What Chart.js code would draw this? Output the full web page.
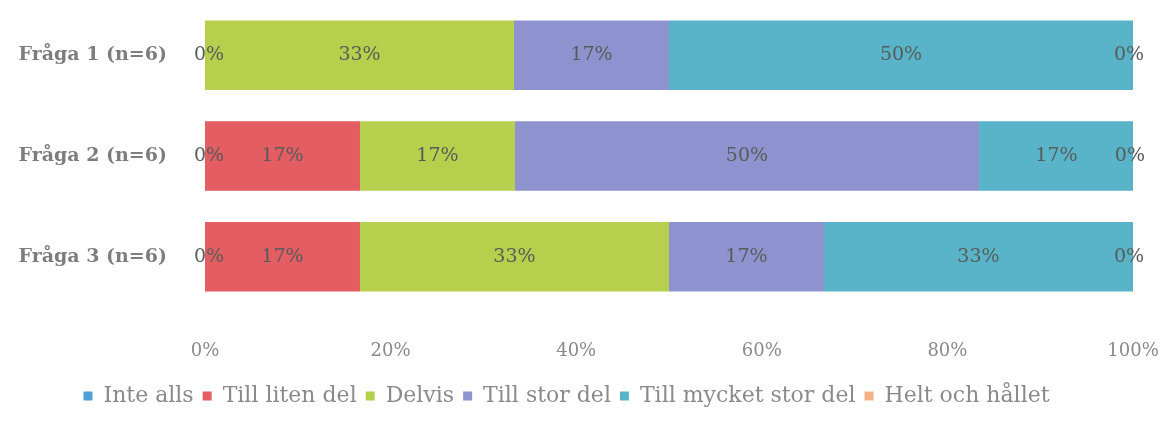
<!DOCTYPE html>
<html>
<head>
<meta charset="utf-8">
<script src="https://cdn.jsdelivr.net/npm/chart.js@4/dist/chart.umd.min.js"></script>
<style>
  html, body { margin: 0; padding: 0; background: #fff; }
  #wrap { width: 1168px; height: 434px; position: relative; }
</style>
</head>
<body>
<div id="wrap"><canvas id="chart"></canvas></div>
<script>
// ── Données ──
var categories = ['Fråga 1 (n=6)', 'Fråga 2 (n=6)', 'Fråga 3 (n=6)'];
var seriesNames = ['Inte alls', 'Till liten del', 'Delvis', 'Till stor del', 'Till mycket stor del', 'Helt och hållet'];
var inteAlls      = [0, 0, 0];
var tillLitenDel  = [null, 16.7, 16.7];
var delvis        = [33.3, 16.7, 33.3];
var tillStorDel   = [16.7, 50, 16.7];
var tillMycket    = [50, 16.7, 33.3];
var heltOchHallet = [0, 0, 0];
var xTicks = [0, 20, 40, 60, 80, 100];

var COLORS = ['#4f9fd8', '#e35d63', '#b6cf4c', '#8e93cf', '#5ab4c9', '#f3b386'];
var TEXT = '#7d7d7d';
var FONT = "'DejaVu Serif', serif";

var seriesValues = [inteAlls, tillLitenDel, delvis, tillStorDel, tillMycket, heltOchHallet];

// Étiquettes de valeurs
var valueLabels = {
  id: 'valueLabels',
  afterDatasetsDraw: function(chart) {
    var ctx = chart.ctx;
    ctx.save();
    ctx.font = '19px ' + FONT;
    ctx.fillStyle = '#575c5a';
    ctx.textAlign = 'center';
    ctx.textBaseline = 'middle';
    chart.data.datasets.forEach(function(ds, i) {
      var meta = chart.getDatasetMeta(i);
      meta.data.forEach(function(el, j) {
        var v = ds.data[j];
        if (v === null || v === undefined) return;
        var cx = (el.x + el.base) / 2;
        if (v === 0) cx += (i === 0 ? 4 : -4);
        ctx.fillText(Math.round(v) + '%', cx, el.y);
      });
    });
    ctx.restore();
  }
};

new Chart(document.getElementById('chart'), {
  type: 'bar',
  data: {
    labels: categories,
    datasets: seriesNames.map(function(name, i) {
      return {
        label: name,
        data: seriesValues[i],
        backgroundColor: COLORS[i],
        borderWidth: 0,
        barPercentage: 0.69,
        categoryPercentage: 1
      };
    })
  },
  options: {
    responsive: true,
    maintainAspectRatio: false,
    animation: false,
    indexAxis: 'y',
    layout: { padding: { top: 5, right: 35, left: 0, bottom: 17 } },
    scales: {
      x: {
        stacked: true,
        min: 0,
        max: 100,
        afterBuildTicks: function(axis) {
          axis.ticks = xTicks.map(function(v) { return { value: v }; });
        },
        afterFit: function(axis) {
          axis.height = 69;
          axis.paddingLeft = 0;
          axis.paddingRight = 0;
        },
        ticks: {
          color: '#8a8a8a',
          font: { family: FONT, size: 18 },
          padding: 26,
          callback: function(v) { return v + '%'; }
        },
        grid: { display: false },
        border: { display: false }
      },
      y: {
        stacked: true,
        afterFit: function(axis) {
          axis.width = 205;
          axis.paddingTop = 0;
          axis.paddingBottom = 0;
        },
        ticks: {
          color: TEXT,
          font: { family: FONT, size: 19, weight: 'bold' },
          padding: 30
        },
        grid: { display: false },
        border: { display: false }
      }
    },
    plugins: {
      legend: {
        position: 'bottom',
        labels: {
          color: '#8a8a8a',
          font: { family: FONT, size: 22 },
          boxWidth: 9,
          boxHeight: 9,
          padding: 9
        }
      },
      tooltip: { enabled: false }
    }
  },
  plugins: [valueLabels]
});
</script>
</body>
</html>
